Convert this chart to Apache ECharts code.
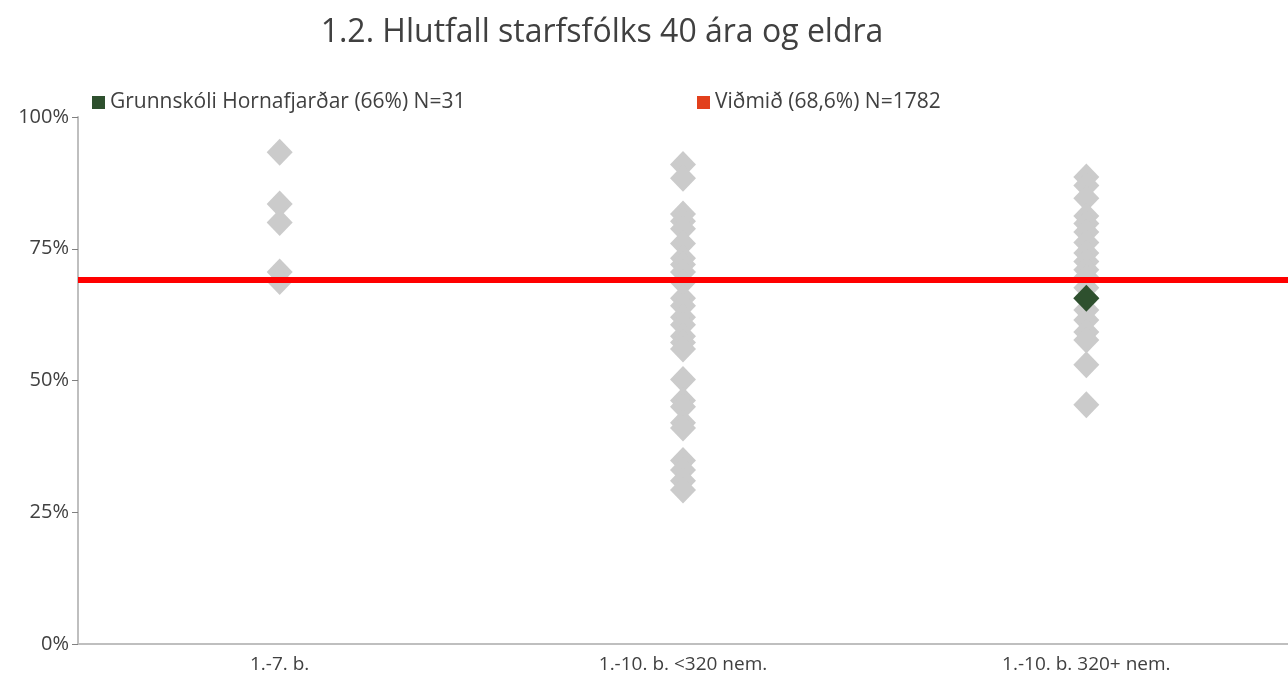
<!DOCTYPE html>
<html lang="is">
<head>
    <meta charset="UTF-8">
    <title>Hlutfall starfsfólks 40 ára og eldra</title>
    <script src="https://cdn.jsdelivr.net/npm/echarts@6/dist/echarts.min.js"></script>
    <style>
        html, body { margin: 0; padding: 0; background: #fff; }
        #chart { width: 1288px; height: 677px; }
    </style>
</head>
<body>
<div id="chart"></div>
<script>
    // flokkar (x-ás)
    var categories = ['1.-7. b.', '1.-10. b. <320 nem.', '1.-10. b. 320+ nem.'];
    var yTicks = [0, 25, 50, 75, 100];

    // aðrir skólar, % starfsfólks 40 ára og eldra
    var col1 = [93.3, 83.5, 80.0, 70.6, 68.8];
    var col2 = [91.0, 88.4, 81.6, 80.2, 78.8, 76.0, 73.2, 72.0, 70.6, 68.6, 65.6, 64.2, 62.0,
                60.6, 58.4, 57.2, 56.0, 50.2, 46.2, 45.0, 42.0, 41.0, 34.8, 33.0, 31.0, 29.2];
    var col3 = [88.6, 87.0, 84.6, 81.2, 79.8, 78.2, 76.2, 74.2, 72.6, 71.0, 69.6, 67.6, 65.6,
                63.4, 61.5, 59.2, 57.7, 53.0, 45.4];

    var schoolName = 'Grunnskóli Hornafjarðar (66%) N=31';
    var schoolCat = 2;
    var schoolValue = 65.6;

    var refName = 'Viðmið (68,6%) N=1782';
    var refValue = 69.2;

    var grayData = [];
    [col1, col2, col3].forEach(function (col, i) {
        col.forEach(function (v) { grayData.push([i, v]); });
    });

    var fontName = 'Open Sans';
    var chart = echarts.init(document.getElementById('chart'));

    var option = {
        backgroundColor: '#fff',
        animation: false,
        textStyle: { fontFamily: fontName },
        title: {
            text: '1.2. Hlutfall starfsfólks 40 ára og eldra',
            left: 597,
            textAlign: 'center',
            top: 12,
            textStyle: { fontFamily: fontName, fontSize: 32, fontWeight: 'normal', color: '#404040' }
        },
        legend: [{
            data: [schoolName],
            left: 87, top: 87,
            icon: 'rect', itemWidth: 13, itemHeight: 13, itemGap: 8,
            textStyle: { fontFamily: fontName, fontSize: 21, color: '#404040' }
        }, {
            data: [refName],
            left: 692, top: 87,
            icon: 'rect', itemWidth: 13, itemHeight: 13,
            textStyle: { fontFamily: fontName, fontSize: 21, color: '#404040' }
        }],
        grid: { left: 78, right: 0, top: 117, bottom: 33, containLabel: false },
        xAxis: {
            type: 'category',
            data: categories,
            boundaryGap: true,
            axisLine: { lineStyle: { color: '#bfbfbf', width: 2 } },
            axisTick: { show: false },
            axisLabel: { fontFamily: fontName, fontSize: 19, color: '#404040', margin: 11 },
            splitLine: { show: false }
        },
        yAxis: {
            type: 'value',
            min: yTicks[0],
            max: yTicks[yTicks.length - 1],
            interval: 25,
            axisLine: { show: true, lineStyle: { color: '#bfbfbf', width: 2 } },
            axisTick: { show: true, length: 6, lineStyle: { color: '#808080' } },
            axisLabel: { fontFamily: fontName, fontSize: 20, color: '#404040', margin: 9, formatter: '{value}%' },
            splitLine: { show: false }
        },
        series: [{
            name: refName,
            type: 'line',
            data: [],
            z: 1,
            itemStyle: { color: '#e2401c' },
            markLine: {
                silent: true,
                symbol: 'none',
                label: { show: false },
                lineStyle: { color: '#ff0000', width: 6, type: 'solid' },
                data: [{ yAxis: refValue }]
            }
        }, {
            name: 'aðrir',
            type: 'scatter',
            symbol: 'diamond',
            symbolSize: [26, 27],
            z: 3,
            itemStyle: { color: '#cbcbcb', opacity: 1 },
            data: grayData
        }, {
            name: schoolName,
            type: 'scatter',
            symbol: 'diamond',
            symbolSize: [26, 27],
            z: 4,
            itemStyle: { color: '#2e502e', opacity: 1 },
            data: [[schoolCat, schoolValue]]
        }]
    };

    chart.setOption(option);
</script>
</body>
</html>
